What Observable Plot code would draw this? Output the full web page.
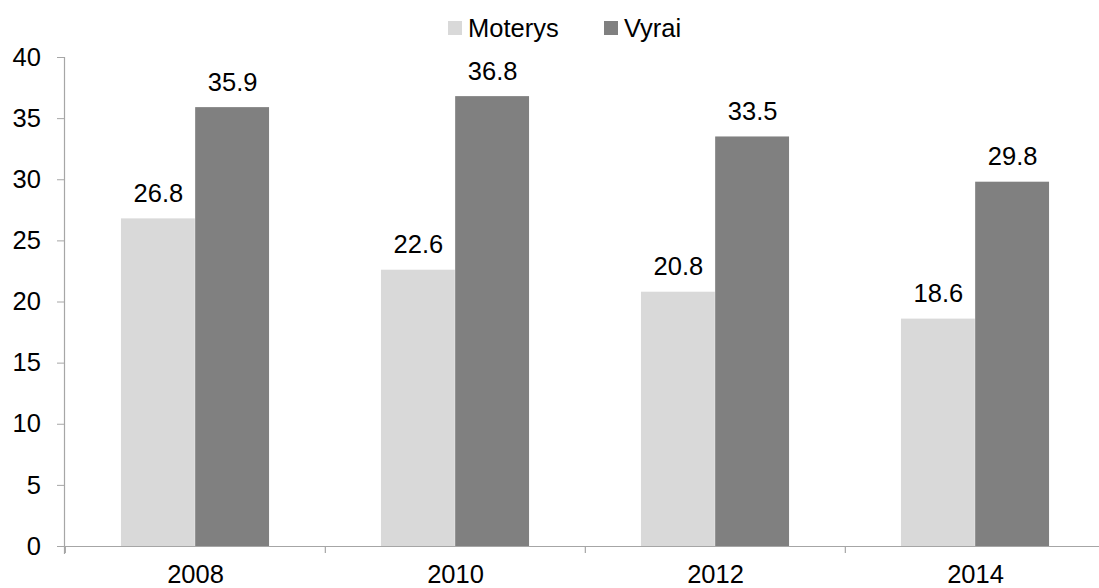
<!DOCTYPE html>
<html>
<head>
<meta charset="utf-8">
<script src="https://cdn.jsdelivr.net/npm/d3@7"></script>
<script src="https://cdn.jsdelivr.net/npm/@observablehq/plot@0.6"></script>
<style>
  html, body { margin: 0; padding: 0; background: #fff; }
  body { width: 1099px; height: 588px; overflow: hidden; font-family: "Liberation Sans", Arial, sans-serif; }
  #legend { height: 44px; position: relative; font-size: 25.5px; color: #000; }
  #legend .item { position: absolute; top: 0; height: 56px; display: flex; align-items: center; }
  #legend .sw { width: 14px; height: 14px; margin-right: 6px; }
  svg { display: block; }
</style>
</head>
<body>
<div id="legend"></div>
<div id="chart"></div>
<script>
const years = ["2008", "2010", "2012", "2014"];
const series = ["Moterys", "Vyrai"];
const moterys = [26.8, 22.6, 20.8, 18.6];
const vyrai = [35.9, 36.8, 33.5, 29.8];
const colors = ["#d9d9d9", "#808080"];
const yTicks = [0, 5, 10, 15, 20, 25, 30, 35, 40];

const values = {Moterys: moterys, Vyrai: vyrai};
const rows = series.flatMap(s => years.map((y, i) => ({year: y, series: s, value: values[s][i]})));

// layout
const W = 1099, H = 544;
const xRange = [64.3, 1105.6];
const bw = (xRange[1] - xRange[0]) / years.length;
const inner = d3.scaleBand(series, [0, bw]).paddingInner(0).paddingOuter(0.754);
const axisGray = "#a6a6a6";
const fs = 25.5;

// legend
const legend = d3.select("#legend");
const legendX = {Moterys: 448, Vyrai: 604};
series.forEach((s, i) => {
  const it = legend.append("div").attr("class", "item").style("left", legendX[s] + "px");
  it.append("div").attr("class", "sw").style("background", colors[i]);
  it.append("span").text(s);
});

const marks = [];
series.forEach((s, i) => {
  const left = inner(s), right = bw - inner(s) - inner.bandwidth();
  marks.push(Plot.barY(rows.filter(d => d.series === s), {
    x: "year", y: "value", fill: colors[i], insetLeft: left, insetRight: right
  }));
  marks.push(Plot.text(rows.filter(d => d.series === s), {
    x: "year", y: "value", text: d => d.value.toFixed(1),
    dx: left + inner.bandwidth() / 2 - bw / 2, dy: -25,
    lineAnchor: "middle", fontSize: fs, fill: "#000"
  }));
});

const chart = Plot.plot({
  width: W,
  height: H,
  marginTop: 13,
  marginBottom: 42,
  marginLeft: 64,
  marginRight: 0,
  style: {fontFamily: '"Liberation Sans", Arial, sans-serif', fontSize: fs + "px", background: "#fff", overflow: "visible"},
  x: {domain: years, range: xRange, padding: 0, label: null},
  y: {domain: [0, 40], label: null},
  marks: [
    ...marks,
    Plot.ruleY([0], {stroke: axisGray, strokeWidth: 1.2}),
    Plot.frame({anchor: "left", stroke: axisGray, strokeWidth: 1.2, insetBottom: -7}),
    Plot.ruleX(years, {x: d => d, dx: -bw / 2, y1: 0, y2: 0, insetBottom: -7, stroke: axisGray, strokeWidth: 1.2}),
    Plot.axisY({ticks: yTicks, tickSize: 7, tickPadding: 16.6, stroke: axisGray, color: "#000", fill: "#000", fontSize: fs, label: null}),
    Plot.axisX({tickSize: 0, tickPadding: 18, fill: "#000", fontSize: fs, label: null})
  ]
});
document.getElementById("chart").appendChild(chart);
</script>
</body>
</html>
